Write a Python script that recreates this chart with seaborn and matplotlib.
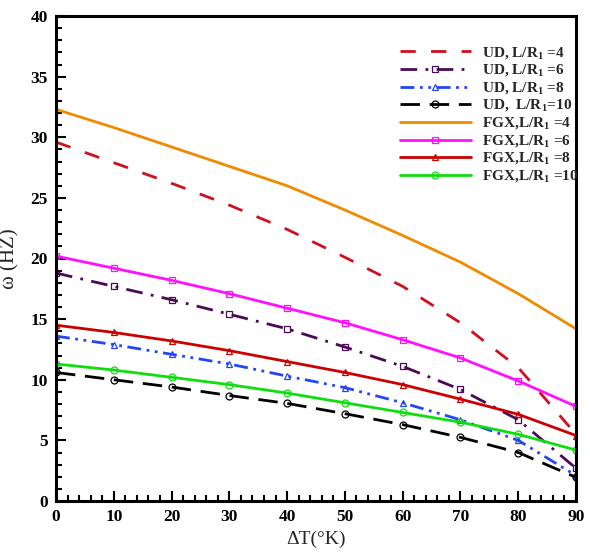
import matplotlib
matplotlib.use("Agg")
import matplotlib.pyplot as plt
from matplotlib.ticker import MultipleLocator
import numpy as np
import pandas as pd
import seaborn as sns

# Temperature rise (K) and natural frequency (Hz) for each case
delta_t = [0, 10, 20, 30, 40, 50, 60, 70, 80, 90]

ud_4 = [29.6, 27.9, 26.2, 24.4, 22.4, 20.1, 17.7, 14.7, 11.0, 5.5]
ud_6 = [18.8, 17.7, 16.6, 15.4, 14.2, 12.7, 11.1, 9.2, 6.7, 2.7]
ud_8 = [13.6, 12.9, 12.1, 11.3, 10.3, 9.35, 8.1, 6.7, 5.0, 2.1]
ud_10 = [10.6, 10.0, 9.4, 8.7, 8.05, 7.2, 6.3, 5.25, 4.0, 1.95]
fgx_4 = [32.3, 30.8, 29.2, 27.6, 26.0, 24.0, 21.9, 19.7, 17.1, 14.2]
fgx_6 = [20.2, 19.2, 18.2, 17.1, 15.9, 14.7, 13.3, 11.8, 9.9, 7.8]
fgx_8 = [14.5, 13.9, 13.2, 12.4, 11.5, 10.6, 9.6, 8.4, 7.15, 5.4]
fgx_10 = [11.3, 10.8, 10.2, 9.6, 8.9, 8.1, 7.3, 6.5, 5.5, 4.2]

labels = [
    r"UD, L/R$_\mathbf{1}$ =4",
    r"UD, L/R$_\mathbf{1}$ =6",
    r"UD, L/R$_\mathbf{1}$ =8",
    r"UD,  L/R$_\mathbf{1}$=10",
    r"FGX,L/R$_\mathbf{1}$ =4",
    r"FGX,L/R$_\mathbf{1}$ =6",
    r"FGX,L/R$_\mathbf{1}$ =8",
    r"FGX,L/R$_\mathbf{1}$ =10",
]
series = [ud_4, ud_6, ud_8, ud_10, fgx_4, fgx_6, fgx_8, fgx_10]

styles = [
    dict(color="#d0101e", linestyle=(0, (5.5, 5.5)), marker=None),
    dict(color="#4a0a55", linestyle=(0, (6, 3, 1, 3)), marker="s"),
    dict(color="#2446f5", linestyle=(0, (5, 2, 1, 2, 1, 2)), marker="^"),
    dict(color="#000000", linestyle=(0, (7, 3.5)), marker="o"),
    dict(color="#f08a00", linestyle="-", marker=None),
    dict(color="#ff10ff", linestyle="-", marker="s"),
    dict(color="#cc0000", linestyle="-", marker="^"),
    dict(color="#10dd10", linestyle="-", marker="o"),
]

sns.set_theme(style="white")
plt.rcParams["font.family"] = ["Liberation Serif", "DejaVu Serif"]
plt.rcParams["mathtext.fontset"] = "custom"
plt.rcParams["mathtext.rm"] = "Liberation Serif"
plt.rcParams["mathtext.bf"] = "Liberation Serif:bold"

fig = plt.figure(figsize=(5.90, 5.54), dpi=100)
ax = fig.add_axes([56 / 590, 1 - 501 / 554, 520 / 590, 485 / 554])

for vals, lab, st in zip(series, labels, styles):
    df = pd.DataFrame({"dT": delta_t, "omega": vals})
    sns.lineplot(
        data=df, x="dT", y="omega", ax=ax, label=lab,
        color=st["color"], linestyle=st["linestyle"], linewidth=2.0,
        marker=st["marker"], markersize=5, markerfacecolor="none",
        markeredgecolor=st["color"], markeredgewidth=0.9,
    )

ax.set_xlim(0, 90)
ax.set_ylim(0, 40)
ax.xaxis.set_major_locator(MultipleLocator(10))
ax.xaxis.set_minor_locator(MultipleLocator(2))
ax.yaxis.set_major_locator(MultipleLocator(5))
ax.yaxis.set_minor_locator(MultipleLocator(1))
ax.tick_params(which="both", direction="in", bottom=True, left=True,
               top=False, right=False, width=1.5, colors="black")
ax.tick_params(which="major", length=7, labelsize=12.5, pad=6)
ax.tick_params(which="minor", length=4)
for t in ax.get_xticklabels() + ax.get_yticklabels():
    t.set_fontweight("bold")

for sp in ax.spines.values():
    sp.set_linewidth(2.2)
    sp.set_color("black")

ax.set_xlabel("ΔT(°K)", fontsize=14, labelpad=4)
ax.set_ylabel("ω (HZ)", fontsize=15, labelpad=8)

leg = ax.legend(
    loc="upper left", bbox_to_anchor=(0.662, 0.94), frameon=False,
    fontsize=11, handlelength=4.6, handletextpad=0.75, labelspacing=0.08,
    borderpad=0, borderaxespad=0,
)
for t in leg.get_texts():
    t.set_fontweight("bold")

fig.savefig("out.png", dpi=100)
